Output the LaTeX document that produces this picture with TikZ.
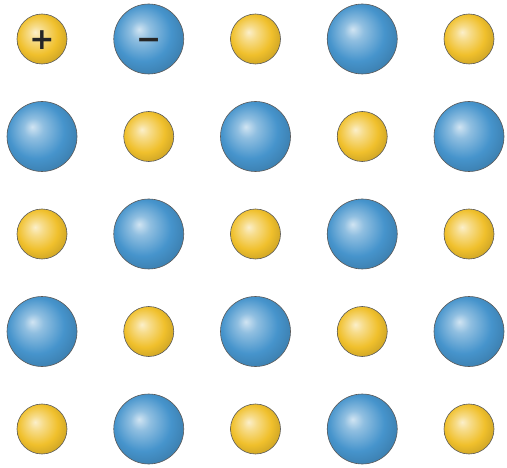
\documentclass[tikz,border=0pt]{standalone}
\usepackage{fontspec}
\usepackage{tikz}
\newfontfamily\signfont{DejaVu Sans}

\definecolor{cationyellow}{RGB}{240,192,44}
\definecolor{anionblue}{RGB}{70,148,204}
\pgfdeclareradialshading{cationshade}{\pgfpoint{-7bp}{7bp}}{%
  color(0bp)=(white!75!cationyellow); color(7bp)=(white!45!cationyellow);
  color(20bp)=(cationyellow); color(30bp)=(cationyellow!85!black);
  color(50bp)=(cationyellow!70!black)}
\pgfdeclareradialshading{anionshade}{\pgfpoint{-7bp}{7bp}}{%
  color(0bp)=(white!75!anionblue); color(7bp)=(white!40!anionblue);
  color(20bp)=(anionblue); color(30bp)=(anionblue!85!black);
  color(50bp)=(anionblue!70!black)}

\tikzset{
  ion/.style={circle, draw=black!65, line width=0.6pt, inner sep=0pt},
  cation/.style={ion, minimum size=50pt, shading=cationshade},
  anion/.style={ion, minimum size=70pt, shading=anionshade},
  charge/.style={inner sep=0pt, text=black!85, text height=21.6pt, text depth=0pt,
    font=\signfont\bfseries\fontsize{30}{32}\selectfont},
}

\begin{document}
\begin{tikzpicture}[x=1pt, y=1pt]
  \useasboundingbox (0,0) rectangle (507,467);

  % === LATTICE ===
  \foreach \col in {0,...,4} {
    \foreach \row in {0,...,4} {
      \pgfmathtruncatemacro{\kind}{mod(\col+\row,2)}
      \ifnum\kind=0
        \node[cation] (ion-\col-\row) at ({42+106.75*\col},{428-97.5*\row}) {};
      \else
        \node[anion] (ion-\col-\row) at ({42+106.75*\col},{428-97.5*\row}) {};
      \fi
    }
  }

  % Charges
  \node[charge] (plus) at (ion-0-0) {+};
  \node[charge] (minus) at (ion-1-0) {−};
\end{tikzpicture}
\end{document}
